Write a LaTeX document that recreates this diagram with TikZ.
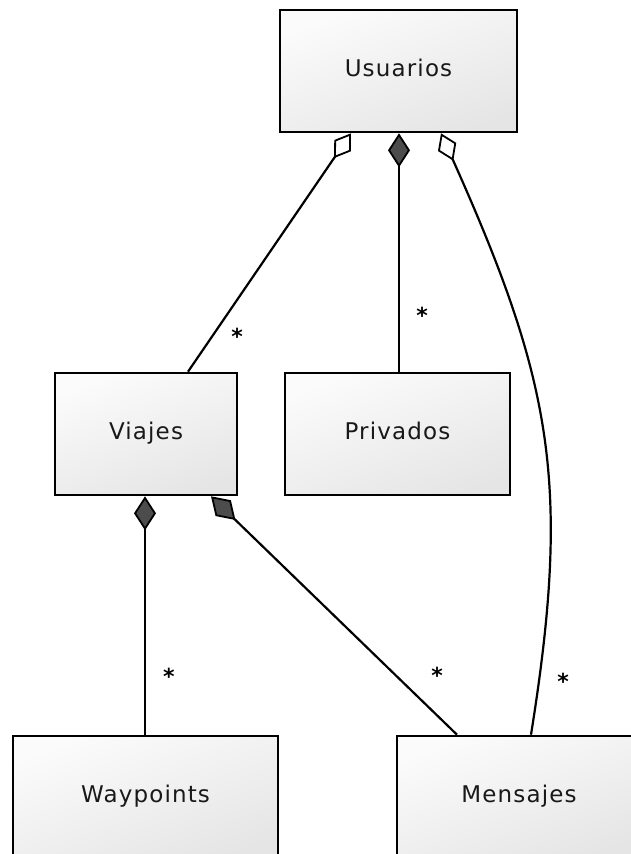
\documentclass[tikz,border=0pt]{standalone}
\usepackage{fontspec}
\setmainfont{DejaVu Sans}
\newfontfamily\boxfont{DejaVu Sans}[LetterSpace=5]
\usepackage{tikz}
\usetikzlibrary{arrows.meta, positioning, calc}

\begin{document}
\begin{tikzpicture}[x=1pt, y=-1pt,
  entity/.style={draw, rectangle, line width=2.6pt, inner sep=0pt, minimum height=122pt, top color=gray!3, bottom color=gray!20, shading angle=20, text=black!90, font=\boxfont\fontsize{23}{28}\selectfont, text height=17pt, text depth=6pt},
  mult/.style={font=\fontsize{22}{22}\selectfont\bfseries, inner sep=0pt},
  agg/.style={line width=2.2pt, arrows={Diamond[open, length=30pt, width=20pt, line width=1.8pt]-}},
  comp/.style={line width=2.2pt, arrows={Diamond[fill=black!70, length=34pt, width=22pt, line width=1.8pt]-}}]
\useasboundingbox (0,0) rectangle (631,854);
\clip (0,0) rectangle (631,854);

\node[entity, minimum width=237pt] (usuarios) at (398.5,71) {Usuarios};
\node[entity, minimum width=182pt] (viajes) at (146,434) {Viajes};
\node[entity, minimum width=225pt] (privados) at (397.5,434) {Privados};
\node[entity, minimum width=265pt] (waypoints) at (145.5,797) {Waypoints};
\node[entity, minimum width=244pt] (mensajes) at (519,797) {Mensajes};

% Relaciones
\draw[agg] ([xshift=-47.5pt]usuarios.south) -- ([xshift=42pt]viajes.north);
\draw[comp] ([xshift=0.5pt]usuarios.south) -- ([xshift=1.5pt]privados.north);
\draw[agg] ([xshift=42.5pt]usuarios.south) .. controls +(112,250) and +(40,-250) .. ([xshift=12pt]mensajes.north);
\draw[comp] ([xshift=-1pt]viajes.south) -- ([xshift=-0.5pt]waypoints.north);
\draw[comp] ([xshift=65pt]viajes.south) -- ([xshift=-62pt]mensajes.north);

% Multiplicidades
\node[mult] (multViajes) at (237,336) {*};
\node[mult] (multPrivados) at (422,315) {*};
\node[mult] (multWaypoints) at (169,676) {*};
\node[mult] (multMensajesV) at (437,675) {*};
\node[mult] (multMensajesU) at (563,681) {*};
\end{tikzpicture}
\end{document}
